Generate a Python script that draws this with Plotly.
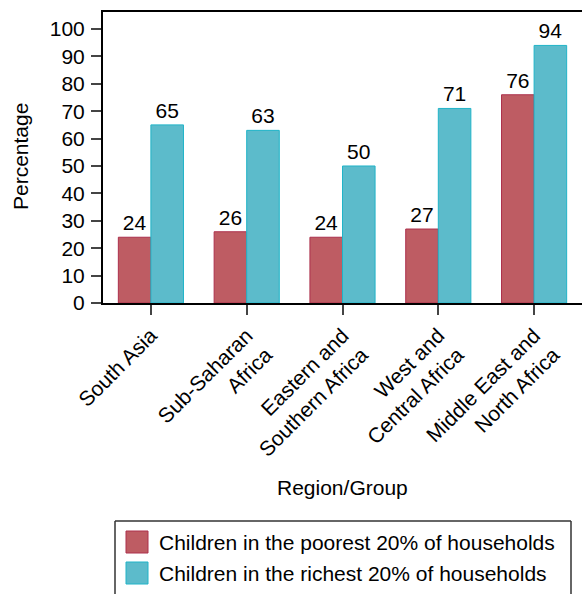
import plotly.graph_objects as go

categories = ["South Asia", "Sub-Saharan<br>Africa", "Eastern and<br>Southern Africa",
              "West and<br>Central Africa", "Middle East and<br>North Africa"]
poorest = [24, 26, 24, 27, 76]
richest = [65, 63, 50, 71, 94]
series_names = ["Children in the poorest 20% of households",
                "Children in the richest 20% of households"]
y_ticks = list(range(0, 101, 10))

W, H = 582, 594
L, R, T, B = 103, 0, 12, 291
PW, PH = W - L - R, H - T - B

def px(x):
    return (x - L) / PW

def py(y):
    return (H - B - y) / PH

FONT = "Liberation Sans, Arial, Helvetica, sans-serif"
FS = 21
red_fill, red_edge = "rgb(190,92,99)", "rgb(172,48,76)"
teal_fill, teal_edge = "rgb(92,187,203)", "rgb(32,180,200)"

fig = go.Figure()
fig.add_trace(go.Bar(x=categories, y=poorest, name=series_names[0],
                     marker=dict(color=red_fill, line=dict(color=red_edge, width=1)),
                     text=poorest, textposition="outside", constraintext="none",
                     textfont=dict(size=FS, color="black", family=FONT),
                     showlegend=False, cliponaxis=False))
fig.add_trace(go.Bar(x=categories, y=richest, name=series_names[1],
                     marker=dict(color=teal_fill, line=dict(color=teal_edge, width=1)),
                     text=richest, textposition="outside", constraintext="none",
                     textfont=dict(size=FS, color="black", family=FONT),
                     showlegend=False, cliponaxis=False))

shapes = []
annotations = []
# manual legend box (left, top, right borders)
bx0, bx1, by0, by1 = 115, 571, 521, 600
for (x0, y0, x1, y1) in [(bx0, by0, bx0, by1), (bx0, by0, bx1, by0), (bx1, by0, bx1, by1)]:
    shapes.append(dict(type="line", xref="paper", yref="paper",
                       x0=px(x0), y0=py(y0), x1=px(x1), y1=py(y1),
                       line=dict(color="#333333", width=1.5)))
rows = [542, 573]
for i, (name, fc, ec) in enumerate(zip(series_names, [red_fill, teal_fill], [red_edge, teal_edge])):
    cy = rows[i]
    shapes.append(dict(type="rect", xref="paper", yref="paper",
                       x0=px(126), x1=px(148), y0=py(cy - 11), y1=py(cy + 11),
                       fillcolor=fc, line=dict(color=ec, width=1)))
    annotations.append(dict(text=name, xref="paper", yref="paper", x=px(157), y=py(cy),
                            xanchor="left", yanchor="middle", showarrow=False,
                            font=dict(size=FS, color="black", family=FONT)))

annotations.append(dict(text="Percentage", xref="paper", yref="paper", x=px(20), y=py(157),
                        xanchor="center", yanchor="middle", textangle=-90, showarrow=False,
                        font=dict(size=FS, color="black", family=FONT)))
annotations.append(dict(text="Region/Group", xref="paper", yref="paper", x=px(342), y=py(487),
                        xanchor="center", yanchor="middle", showarrow=False,
                        font=dict(size=FS, color="black", family=FONT)))

fig.update_layout(
    width=W, height=H,
    margin=dict(l=L, r=R, t=T, b=B, autoexpand=False),
    paper_bgcolor="white", plot_bgcolor="white",
    barmode="group", bargap=0.32, bargroupgap=0,
    font=dict(family=FONT, size=FS, color="black"),
    shapes=shapes, annotations=annotations,
    showlegend=False,
)
fig.update_xaxes(showline=True, linecolor="black", linewidth=2, mirror=True,
                 ticks="outside", ticklen=10, tickwidth=2, tickcolor="#444444",
                 tickangle=-45, tickfont=dict(size=FS, color="black", family=FONT),
                 showgrid=False, range=[-0.5, 4.5])
fig.update_yaxes(showline=True, linecolor="black", linewidth=2,
                 ticks="outside", ticklen=10, tickwidth=2, tickcolor="#444444",
                 tickvals=y_ticks, range=[0, 106.2], ticklabelstandoff=2,
                 tickfont=dict(size=FS, color="black", family=FONT),
                 showgrid=False, zeroline=False)

fig.write_html("out.html")
